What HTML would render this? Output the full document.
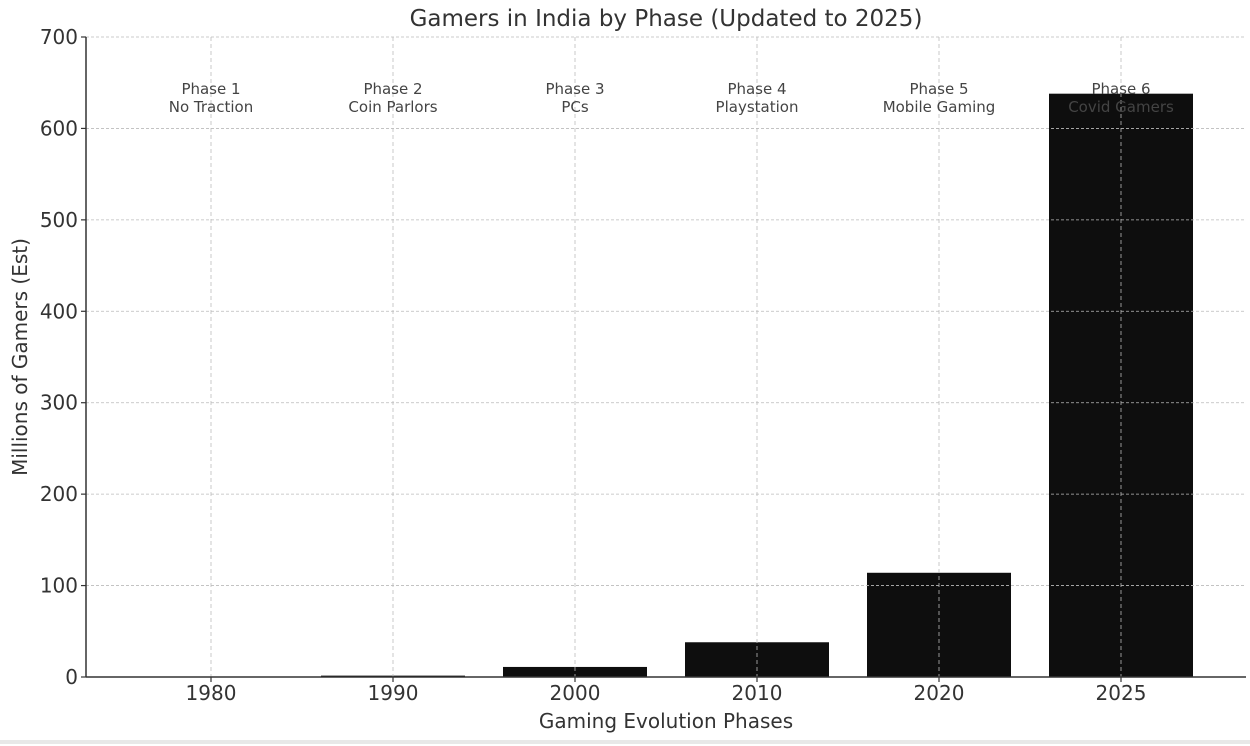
<!DOCTYPE html>
<html><head><meta charset="utf-8"><style>
body{margin:0;background:#fff;}
svg{display:block;font-family:"DejaVu Sans","Liberation Sans",sans-serif;}
</style></head><body>
<svg id="chart" width="1250" height="746">
<rect x="0" y="0" width="1250" height="746" fill="#fff"/>
<line x1="0" y1="742" x2="1250" y2="742" stroke="#e8e8e8" stroke-width="4"/>
<text x="666" y="26" font-size="23" text-anchor="middle" fill="#333">Gamers in India by Phase (Updated to 2025)</text>
<text x="666" y="728" font-size="20" text-anchor="middle" fill="#333">Gaming Evolution Phases</text>
<text transform="translate(27,357) rotate(-90)" font-size="20" text-anchor="middle" fill="#333">Millions of Gamers (Est)</text>
<g id="bars"></g><g id="grid"></g><g id="axes"></g>
</svg>
<script>
const categories=["1980","1990","2000","2010","2020","2025"];
const phases=["Phase 1","Phase 2","Phase 3","Phase 4","Phase 5","Phase 6"];
const phaseNames=["No Traction","Coin Parlors","PCs","Playstation","Mobile Gaming","Covid Gamers"];
const values=[0.2,1.5,11,38,114,638];
const yTicks=[0,100,200,300,400,500,600,700];
const NS="http://www.w3.org/2000/svg";
const L=86,R=1246,T=37,B=677,yMax=700;
const y=v=>B-(v/yMax)*(B-T);
const step=182,x0=211;
const x=i=>x0+i*step;
const bw=144;
function mk(tag,attrs,parent){const e=document.createElementNS(NS,tag);for(const k in attrs)e.setAttribute(k,attrs[k]);parent.appendChild(e);return e;}
const gb=document.getElementById('bars'),gg=document.getElementById('grid'),ga=document.getElementById('axes');
values.forEach((v,i)=>{
 const r=mk('rect',{x:x(i)-bw/2,y:y(v),width:bw,height:B-y(v),fill:'#0e0e0e'},gb);
 
 
});
yTicks.forEach(t=>{
 const l=mk('line',{x1:L,x2:R,y1:y(t),y2:y(t),stroke:'#bbb','stroke-width':0.8,'stroke-dasharray':'3,2'},gg);
 
 
 mk('line',{x1:L-5,x2:L,y1:y(t),y2:y(t),stroke:'#333','stroke-width':1.2},ga);
 const tx=mk('text',{x:L-8,y:y(t)+7,'font-size':20,'text-anchor':'end',fill:'#333'},ga);
 tx.textContent=t;
 
 
});
categories.forEach((c,i)=>{
 const l=mk('line',{x1:x(i),x2:x(i),y1:T,y2:B,stroke:'#bbb','stroke-width':0.8,'stroke-dasharray':'4,3'},gg);
 
 
 mk('line',{x1:x(i),x2:x(i),y1:B,y2:B+5,stroke:'#333','stroke-width':1.2},ga);
 const tx=mk('text',{x:x(i),y:B+23,'font-size':20,'text-anchor':'middle',fill:'#333'},ga);
 tx.textContent=c;
 
 
 const p1=mk('text',{x:x(i),y:94,'font-size':15,'text-anchor':'middle',fill:'#444'},ga);
 p1.textContent=phases[i];
 
 
 const p2=mk('text',{x:x(i),y:112,'font-size':15,'text-anchor':'middle',fill:'#444'},ga);
 p2.textContent=phaseNames[i];
 
 
});
mk('line',{x1:L,x2:L,y1:T,y2:B,stroke:'#333','stroke-width':1.5},ga);
mk('line',{x1:L,x2:R,y1:B,y2:B,stroke:'#333','stroke-width':1.5},ga);
</script>
</body></html>
